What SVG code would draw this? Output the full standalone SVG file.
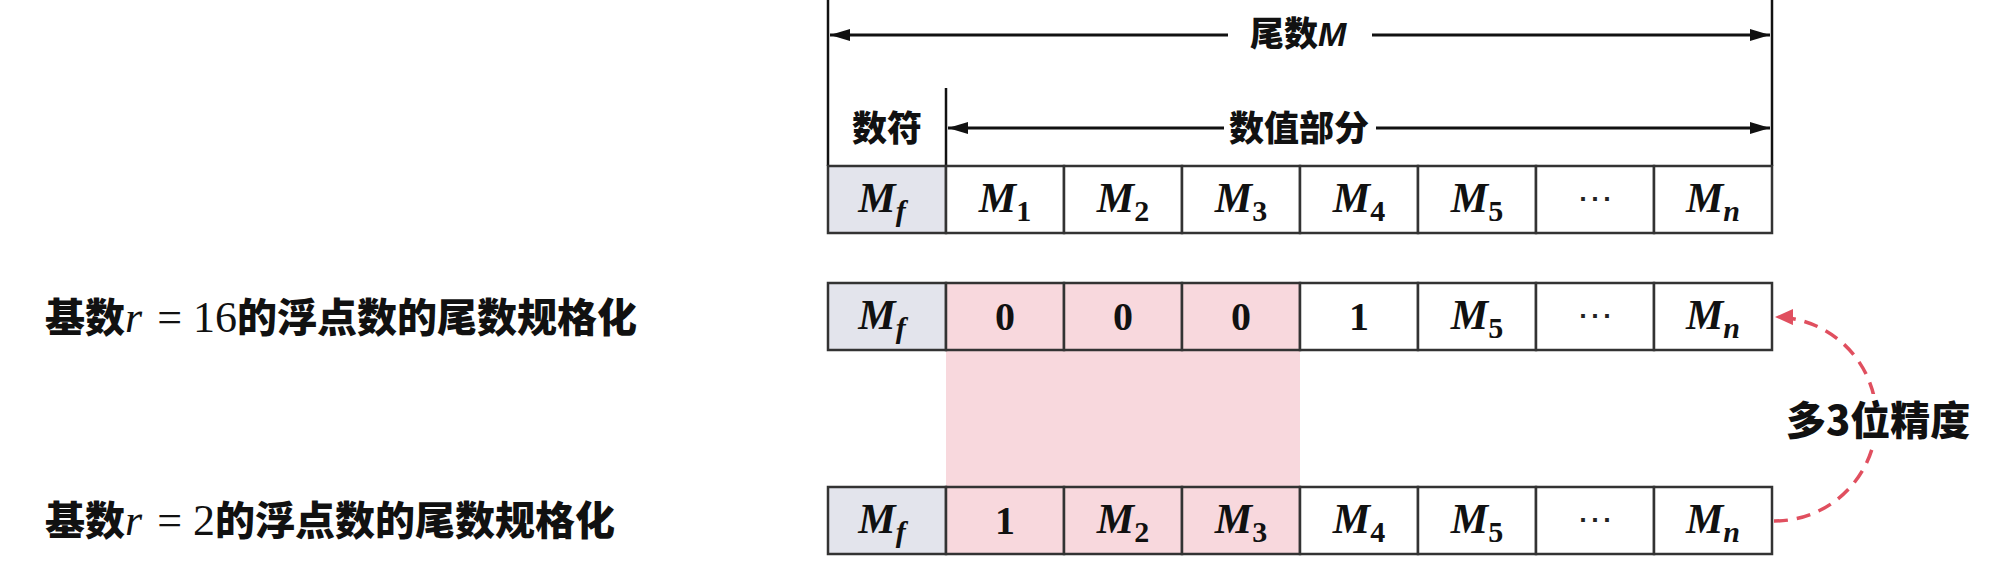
<svg xmlns="http://www.w3.org/2000/svg" width="1996" height="574" viewBox="0 0 1996 574">
<style>
  .bg{fill:#fff}
  .cell{stroke:#333;stroke-width:2.5}
  .w{fill:#fff}
  .g{fill:#E3E4EC}
  .p{fill:#F8D8DD}
  .m{font-family:"Liberation Serif","DejaVu Serif",serif;font-weight:bold;font-size:42px;text-anchor:middle;fill:#111}
  .mi{font-style:italic}
  .sub{font-size:30px}
  .d{font-size:40px}
  .ell{font-family:"DejaVu Serif",serif;font-weight:normal;font-size:36px;text-anchor:middle;fill:#222}
  .cjk{font-family:"Noto Sans CJK SC","Noto Sans",sans-serif;font-weight:900;fill:#111}
  .mt{font-family:"Liberation Serif","DejaVu Serif",serif;font-weight:normal;font-size:44px}
  .ln{stroke:#111;stroke-width:2.5;fill:none}
  .arr{stroke:#111;stroke-width:3;fill:none;marker-end:url(#ah)}
  .dash{stroke:#E04F5F;stroke-width:3.5;fill:none;stroke-dasharray:14 9;marker-end:url(#rh)}
</style>
<defs>
  <marker id="ah" markerUnits="userSpaceOnUse" markerWidth="20" markerHeight="12" refX="20" refY="6" orient="auto">
    <path d="M0,0 L20,6 L0,12 z" fill="#111"/>
  </marker>
  <marker id="rh" markerUnits="userSpaceOnUse" markerWidth="20" markerHeight="16" refX="18" refY="8" orient="auto">
    <path d="M0,0 L18,8 L0,16 z" fill="#E04F5F"/>
  </marker>
</defs>
<rect class="bg" x="0" y="0" width="1996" height="574"/>

<rect id="pink-band" class="p" x="946" y="350" width="354" height="137"/>

<g id="connectors">
  <line class="ln" x1="828" y1="0" x2="828" y2="166"/>
  <line class="ln" x1="1772" y1="0" x2="1772" y2="166"/>
  <line class="ln" x1="946" y1="88" x2="946" y2="166"/>
  <path class="arr" d="M1228,35 H830"/>
  <path class="arr" d="M1372,35 H1770"/>
  <path class="arr" d="M1224,128 H948"/>
  <path class="arr" d="M1376,128 H1770"/>
  <path class="dash" d="M1774,521 A102,102 0 0 0 1775,317"/>
</g>

<g id="label-mantissa">
  <text class="cjk" x="1250" y="46" font-size="34">尾数<tspan font-family="Liberation Sans, sans-serif" font-weight="bold" font-style="italic">M</tspan></text>
</g>
<g id="label-sign">
  <text class="cjk" x="887" y="141" font-size="35" text-anchor="middle">数符</text>
</g>
<g id="label-value">
  <text class="cjk" x="1229" y="141" font-size="35">数值部分</text>
</g>

<g id="row1">
  <g id="r1c0"><rect class="cell g" x="828" y="166" width="118" height="67"/><text class="m" x="882" y="212"><tspan class="mi">M</tspan><tspan class="sub mi" dy="9">f</tspan></text></g>
  <g id="r1c1"><rect class="cell w" x="946" y="166" width="118" height="67"/><text class="m" x="1005" y="212"><tspan class="mi">M</tspan><tspan class="sub" dy="9">1</tspan></text></g>
  <g id="r1c2"><rect class="cell w" x="1064" y="166" width="118" height="67"/><text class="m" x="1123" y="212"><tspan class="mi">M</tspan><tspan class="sub" dy="9">2</tspan></text></g>
  <g id="r1c3"><rect class="cell w" x="1182" y="166" width="118" height="67"/><text class="m" x="1241" y="212"><tspan class="mi">M</tspan><tspan class="sub" dy="9">3</tspan></text></g>
  <g id="r1c4"><rect class="cell w" x="1300" y="166" width="118" height="67"/><text class="m" x="1359" y="212"><tspan class="mi">M</tspan><tspan class="sub" dy="9">4</tspan></text></g>
  <g id="r1c5"><rect class="cell w" x="1418" y="166" width="118" height="67"/><text class="m" x="1477" y="212"><tspan class="mi">M</tspan><tspan class="sub" dy="9">5</tspan></text></g>
  <g id="r1c6"><rect class="cell w" x="1536" y="166" width="118" height="67"/><text class="ell" x="1595" y="211">⋯</text></g>
  <g id="r1c7"><rect class="cell w" x="1654" y="166" width="118" height="67"/><text class="m" x="1713" y="212"><tspan class="mi">M</tspan><tspan class="sub mi" dy="9">n</tspan></text></g>
</g>

<g id="row2">
  <g id="r2c0"><rect class="cell g" x="828" y="283" width="118" height="67"/><text class="m" x="882" y="329"><tspan class="mi">M</tspan><tspan class="sub mi" dy="9">f</tspan></text></g>
  <g id="r2c1"><rect class="cell p" x="946" y="283" width="118" height="67"/><text class="m d" x="1005" y="330">0</text></g>
  <g id="r2c2"><rect class="cell p" x="1064" y="283" width="118" height="67"/><text class="m d" x="1123" y="330">0</text></g>
  <g id="r2c3"><rect class="cell p" x="1182" y="283" width="118" height="67"/><text class="m d" x="1241" y="330">0</text></g>
  <g id="r2c4"><rect class="cell w" x="1300" y="283" width="118" height="67"/><text class="m d" x="1359" y="330">1</text></g>
  <g id="r2c5"><rect class="cell w" x="1418" y="283" width="118" height="67"/><text class="m" x="1477" y="329"><tspan class="mi">M</tspan><tspan class="sub" dy="9">5</tspan></text></g>
  <g id="r2c6"><rect class="cell w" x="1536" y="283" width="118" height="67"/><text class="ell" x="1595" y="328">⋯</text></g>
  <g id="r2c7"><rect class="cell w" x="1654" y="283" width="118" height="67"/><text class="m" x="1713" y="329"><tspan class="mi">M</tspan><tspan class="sub mi" dy="9">n</tspan></text></g>
</g>

<g id="row3">
  <g id="r3c0"><rect class="cell g" x="828" y="487" width="118" height="67"/><text class="m" x="882" y="533"><tspan class="mi">M</tspan><tspan class="sub mi" dy="9">f</tspan></text></g>
  <g id="r3c1"><rect class="cell p" x="946" y="487" width="118" height="67"/><text class="m d" x="1005" y="534">1</text></g>
  <g id="r3c2"><rect class="cell p" x="1064" y="487" width="118" height="67"/><text class="m" x="1123" y="533"><tspan class="mi">M</tspan><tspan class="sub" dy="9">2</tspan></text></g>
  <g id="r3c3"><rect class="cell p" x="1182" y="487" width="118" height="67"/><text class="m" x="1241" y="533"><tspan class="mi">M</tspan><tspan class="sub" dy="9">3</tspan></text></g>
  <g id="r3c4"><rect class="cell w" x="1300" y="487" width="118" height="67"/><text class="m" x="1359" y="533"><tspan class="mi">M</tspan><tspan class="sub" dy="9">4</tspan></text></g>
  <g id="r3c5"><rect class="cell w" x="1418" y="487" width="118" height="67"/><text class="m" x="1477" y="533"><tspan class="mi">M</tspan><tspan class="sub" dy="9">5</tspan></text></g>
  <g id="r3c6"><rect class="cell w" x="1536" y="487" width="118" height="67"/><text class="ell" x="1595" y="532">⋯</text></g>
  <g id="r3c7"><rect class="cell w" x="1654" y="487" width="118" height="67"/><text class="m" x="1713" y="533"><tspan class="mi">M</tspan><tspan class="sub mi" dy="9">n</tspan></text></g>
</g>

<g id="label-r16">
  <text class="cjk" x="45" y="332" font-size="40">基数<tspan class="mt" font-style="italic">r</tspan><tspan class="mt" dx="15">= 16</tspan>的浮点数的尾数规格化</text>
</g>
<g id="label-r2">
  <text class="cjk" x="45" y="535" font-size="40">基数<tspan class="mt" font-style="italic">r</tspan><tspan class="mt" dx="15">= 2</tspan>的浮点数的尾数规格化</text>
</g>

<g id="label-precision">
  <rect x="1784" y="394" width="190" height="54" fill="#fff"/>
  <text class="cjk" x="1786" y="435" font-size="40">多3位精度</text>
</g>
</svg>
